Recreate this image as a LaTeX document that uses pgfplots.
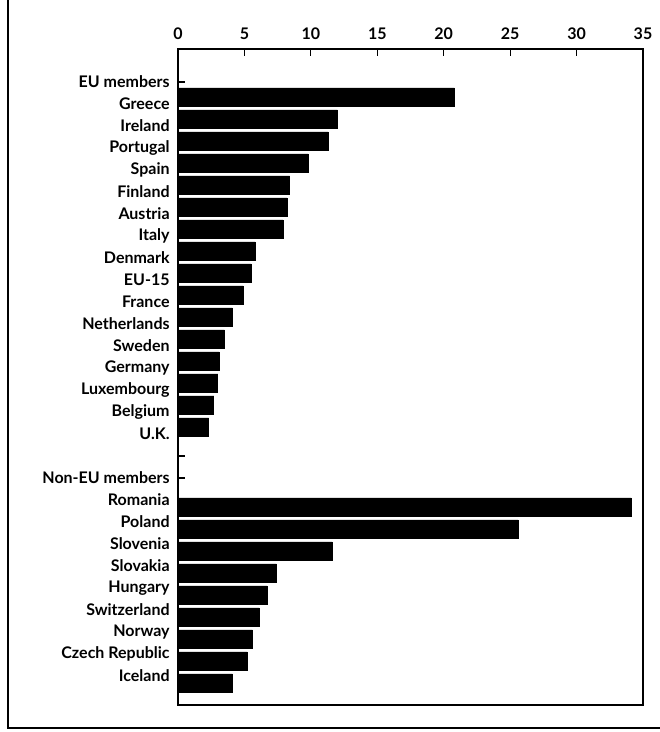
\documentclass[border=0pt]{standalone}
\usepackage{fontspec}
\setmainfont{Lato}
\usepackage{pgfplots}
\pgfplotsset{compat=1.18}
\begin{document}
\begin{tikzpicture}[font=\fontsize{8}{9.5}\selectfont\bfseries]
\begin{axis}[
    name=ax,
    scale only axis,
    width=232.5pt, height=328pt,
    xbar, bar width=0.82,
    xmin=0, xmax=35,
    ymin=-0.5, ymax=29.32,
    y dir=reverse,
    xtick={0,5,...,35},
    xtick pos=upper, xticklabel pos=upper,
    ytick={1,...,28},
    ytick pos=left,
    yticklabels={EU members, Greece, Ireland, Portugal, Spain, Finland, Austria, Italy,
      Denmark, EU-15, France, Netherlands, Sweden, Germany, Luxembourg, Belgium, U.K., {},
      Non-EU members, Romania, Poland, Slovenia, Slovakia, Hungary, Switzerland, Norway,
      Czech Republic, Iceland},
    tick align=inside,
    major tick length=3.5pt,
    tick style={black, line width=0.6pt},
    axis line style={line width=0.6pt},
    yticklabel style={inner sep=1pt, xshift=-3pt},
    xticklabel style={yshift=1pt},
    /pgf/number format/assume math mode=true,
]
  % EU members
  \addplot[fill=black, draw=black] coordinates {
    (20.8,2) (12.0,3) (11.3,4) (9.8,5) (8.4,6) (8.2,7) (7.9,8) (5.8,9)
    (5.5,10) (4.9,11) (4.1,12) (3.5,13) (3.1,14) (3.0,15) (2.7,16) (2.3,17)
  };
  % Non-EU members
  \addplot[fill=black, draw=black] coordinates {
    (34.1,20) (25.6,21) (11.6,22) (7.4,23) (6.7,24) (6.1,25) (5.6,26) (5.2,27) (4.1,28)
  };
\end{axis}
\draw[line width=0.9pt] ([shift={(-85pt,24.5pt)}]ax.north west) -- ([shift={(-85pt,-11.5pt)}]ax.south west)
  -- ([shift={(8.5pt,-11.5pt)}]ax.south east);
\pgfresetboundingbox
\path ([shift={(-89pt,-13.5pt)}]ax.south west) rectangle ([shift={(8.5pt,24.5pt)}]ax.north east);
\end{tikzpicture}
\end{document}
